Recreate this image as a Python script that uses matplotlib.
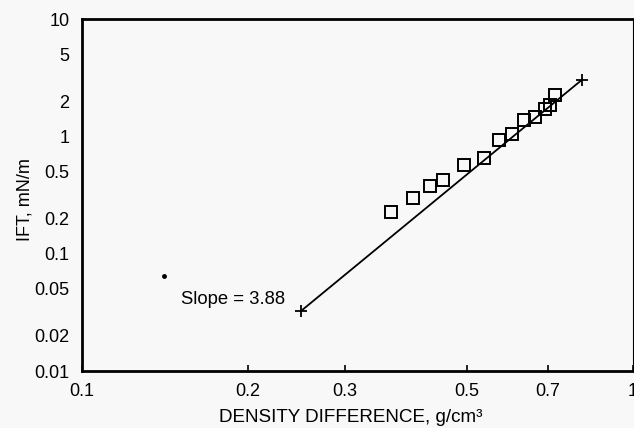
import matplotlib
matplotlib.use("Agg")
import matplotlib.pyplot as plt
from matplotlib.ticker import FixedLocator, FixedFormatter, NullLocator

plt.rcParams['font.family'] = ['Liberation Sans', 'DejaVu Sans']

# measured points (density difference, IFT)
density = [0.363, 0.399, 0.428, 0.452, 0.493, 0.537, 0.571, 0.603, 0.634, 0.665, 0.691, 0.707, 0.722]
ift = [0.226, 0.298, 0.379, 0.422, 0.573, 0.650, 0.925, 1.05, 1.38, 1.47, 1.72, 1.84, 2.26]

# fitted line end points
fit_x = [0.250, 0.807]
fit_y = [0.0326, 3.02]

# stray point
dot_x = [0.141]
dot_y = [0.064]

x_ticks = [0.1, 0.2, 0.3, 0.5, 0.7, 1]
x_labels = ["0.1", "0.2", "0.3", "0.5", "0.7", "1"]
y_ticks = [0.01, 0.02, 0.05, 0.1, 0.2, 0.5, 1, 2, 5, 10]
y_labels = ["0.01", "0.02", "0.05", "0.1", "0.2", "0.5", "1", "2", "5", "10"]

fig = plt.figure(figsize=(6.34, 4.28), dpi=100)
fig.patch.set_facecolor("#f8f8f8")
ax = fig.add_axes([82 / 634, 1 - 371 / 428, 551 / 634, 352 / 428])
ax.set_facecolor("#f8f8f8")

ax.set_xscale("log")
ax.set_yscale("log")
ax.set_xlim(0.1, 1)
ax.set_ylim(0.01, 10)

ax.plot(fit_x, fit_y, color="black", lw=1.3, marker="+", ms=8, mew=1.3)
ax.plot(density, ift, linestyle="none", marker="s", ms=8, mfc="none", mec="black", mew=1.4)
ax.plot(dot_x, dot_y, linestyle="none", marker="o", ms=2.5, color="black")

ax.text(0.188, 0.041, "Slope = 3.88", fontsize=13.3, ha="center", va="center")

ax.xaxis.set_major_locator(FixedLocator(x_ticks))
ax.xaxis.set_major_formatter(FixedFormatter(x_labels))
ax.xaxis.set_minor_locator(NullLocator())
ax.yaxis.set_major_locator(FixedLocator(y_ticks))
ax.yaxis.set_major_formatter(FixedFormatter(y_labels))
ax.yaxis.set_minor_locator(NullLocator())

ax.tick_params(axis="x", direction="in", length=4, width=1.2, labelsize=13, pad=9)
ax.tick_params(axis="y", direction="in", length=0, labelsize=13, pad=9)

for side in ["left", "top", "bottom"]:
    ax.spines[side].set_linewidth(2)
ax.spines["right"].set_linewidth(0.8)
ax.spines["right"].set_linestyle((0, (2, 1)))

fig.text(351 / 634, 1 - 417 / 428, "DENSITY DIFFERENCE, g/cm³", fontsize=13.6, ha="center", va="center")
fig.text(25 / 634, 1 - 200 / 428, "IFT, mN/m", fontsize=13, ha="center", va="center", rotation=90)

fig.savefig("out.png", dpi=100, facecolor=fig.get_facecolor())
